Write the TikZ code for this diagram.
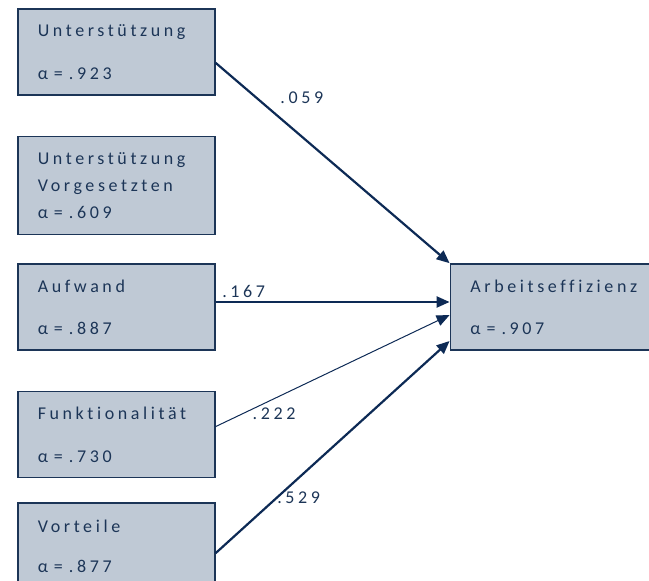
\documentclass[tikz,border=0pt]{standalone}
\usepackage{fontspec}
\usepackage{xcolor}
\usepackage{tikz}
\usetikzlibrary{arrows.meta, positioning, calc}
\newfontfamily\diagfont[LetterSpace=20, Ligatures=NoCommon]{Carlito}
\definecolor{boxfill}{HTML}{BFC9D5}
\definecolor{navy}{HTML}{1C3557}
\definecolor{arrowink}{HTML}{0D2A55}

\begin{document}
\begin{tikzpicture}[
  x=1pt, y=-1pt,
  construct/.style={rectangle, draw=navy, line width=1.6pt, fill=boxfill, minimum width=197pt, minimum height=86pt, inner xsep=20pt, text width=157pt, align=left, text=navy, font=\diagfont\fontsize{18}{27}\selectfont},
  coef/.style={text=navy, font=\diagfont\fontsize{18}{20}\selectfont, inner sep=1pt},
  link/.style={-{Triangle[length=13pt, width=11pt]}, line width=2.2pt, arrowink}
]
  \useasboundingbox (0,0) rectangle (649,581);
  \clip (0,0) rectangle (649,581);

  \node[construct, anchor=north west] (support) at (17,8) {Unterstützung\\[16pt]α = .923};
  \node[construct, minimum height=98pt, below=40pt of support] (supervisor) {Unterstützung\\Vorgesetzten\\α = .609};
  \node[construct, below=28pt of supervisor] (effort) {Aufwand\\[15pt]α = .887};
  \node[construct, below=40pt of effort] (function) {Funktionalität\\[16pt]α = .730};
  \node[construct, below=24pt of function] (benefit) {Vorteile\\[13pt]α = .877};

  \node[construct, minimum width=212pt, text width=172pt, right=234pt of effort] (efficiency) {Arbeitseffizienz\\[15pt]α = .907};

  \draw[link] ([yshift=-11pt]support.east) -- (efficiency.north west) node[coef, pos=0.3, xshift=16pt, yshift=25pt] {.059};
  \draw[link] ([yshift=5pt]effort.east) -- ([yshift=5pt]efficiency.west) node[coef, pos=0.12, yshift=11pt] {.167};
  \draw[link, line width=1pt] ([yshift=8pt]function.east) -- ([yshift=-8pt]efficiency.west) node[coef, pos=0.25, yshift=-15pt] {.222};
  \draw[link] ([yshift=-7pt]benefit.east) -- ([yshift=-34pt]efficiency.west) node[coef, pos=0.355, yshift=-20pt] {.529};
\end{tikzpicture}
\end{document}
